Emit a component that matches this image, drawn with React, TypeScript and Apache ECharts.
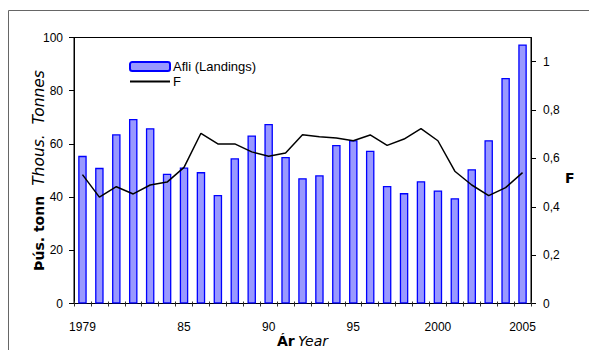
import React, { useEffect, useRef } from "react";
import * as echarts from "echarts";

// Years on the category axis
const years: string[] = [
  "1979", "1980", "1981", "1982", "1983", "1984", "1985", "1986", "1987",
  "1988", "1989", "1990", "1991", "1992", "1993", "1994", "1995", "1996",
  "1997", "1998", "1999", "2000", "2001", "2002", "2003", "2004", "2005",
];

// Landings, thousand tonnes
const landings: number[] = [
  55.5, 51.0, 63.6, 69.4, 65.9, 48.8, 51.1, 49.4, 40.8,
  54.6, 63.2, 67.5, 55.1, 47.1, 48.2, 59.6, 61.4, 57.4,
  44.2, 41.5, 46.0, 42.5, 39.6, 50.5, 61.4, 84.8, 97.4,
];

// Fishing mortality F
const fishingMortality: number[] = [
  0.533, 0.44, 0.483, 0.453, 0.49, 0.502, 0.563, 0.704, 0.66,
  0.66, 0.627, 0.609, 0.622, 0.698, 0.69, 0.684, 0.673, 0.697,
  0.654, 0.68, 0.723, 0.673, 0.547, 0.49, 0.446, 0.479, 0.541,
];

// Year labels shown under the axis (keyed by year)
const yearTickLabels: Record<string, string> = {
  "1979": "1979",
  "1985": "85",
  "1990": "90",
  "1995": "95",
  "2000": "2000",
  "2005": "2005",
};

// Right axis tick values
const fTicks: number[] = [0, 0.2, 0.4, 0.6, 0.8, 1.0];

const FONT = "Liberation Sans";
const TITLE_FONT = "DejaVu Sans";

export default function App() {
  const ref = useRef<HTMLDivElement>(null);

  useEffect(() => {
    if (!ref.current) return;
    const chart = echarts.init(ref.current, undefined, { renderer: "svg" });
    chart.setOption({
      animation: false,
      backgroundColor: "#ffffff",
      textStyle: { fontFamily: FONT },
      grid: {
        left: 74,
        right: 58,
        top: 37.5,
        bottom: 46.5,
        containLabel: false,
        outerBoundsMode: "none",
        show: true,
        borderColor: "#000",
        borderWidth: 1,
        backgroundColor: "transparent",
      },
      legend: {
        orient: "vertical",
        left: 124,
        top: 55,
        itemWidth: 40,
        itemHeight: 9,
        itemGap: 2,
        textStyle: { fontFamily: FONT, fontSize: 13, color: "#000", padding: [0, 0, 0, -2] },
        data: [
          { name: "Afli (Landings)" },
          { name: "F", itemStyle: { opacity: 0 } },
        ],
      },
      graphic: [
        {
          type: "rect",
          shape: { x: 8.5, y: 10.5, width: 700, height: 500 },
          style: { fill: "none", stroke: "#666", lineWidth: 1 },
          silent: true,
        },
      ],
      xAxis: [
        {
          type: "category",
          data: years,
          boundaryGap: true,
          axisLine: { show: true, lineStyle: { color: "#000", width: 1 } },
          axisTick: {
            show: true,
            interval: 0,
            length: 3,
            lineStyle: { color: "#333" },
          },
          axisLabel: {
            interval: (_i: number, v: string) => v in yearTickLabels,
            formatter: (v: string) => yearTickLabels[v] ?? "",
            margin: 17,
            fontSize: 12,
            color: "#000",
            fontFamily: FONT,
          },
          name: "{b|Ár} {i|Year}",
          nameLocation: "middle",
          nameMoveOverlap: false,
          nameGap: 30,
          nameTextStyle: {
            rich: {
              b: { fontFamily: TITLE_FONT, fontWeight: "bold", fontSize: 14, color: "#000" },
              i: { fontFamily: TITLE_FONT, fontStyle: "italic", fontSize: 14, color: "#000" },
            },
          },
        },
        {
          type: "category",
          data: years,
          boundaryGap: true,
          position: "bottom",
          axisLine: { show: false },
          axisTick: {
            show: true,
            inside: true,
            interval: 0,
            length: 2,
            lineStyle: { color: "#333" },
          },
          axisLabel: { show: false },
        },
      ],
      yAxis: [
        {
          type: "value",
          min: 0,
          max: 100,
          interval: 20,
          splitLine: { show: false },
          axisLine: { show: true, lineStyle: { color: "#000" } },
          axisTick: { show: true, length: 5, lineStyle: { color: "#000" } },
          axisLabel: { margin: 11, fontSize: 12, color: "#000", fontFamily: FONT },
          name: "{b|Þús. tonn}   {i|Thous.  Tonnes}",
          nameLocation: "middle",
          nameMoveOverlap: false,
          nameGap: 27,
          nameTextStyle: {
            rich: {
              b: { fontFamily: TITLE_FONT, fontWeight: "bold", fontSize: 14, color: "#000" },
              i: { fontFamily: TITLE_FONT, fontStyle: "italic", fontSize: 15.5, color: "#000" },
            },
          },
        },
        {
          type: "value",
          position: "right",
          min: 0,
          max: 1.1,
          splitLine: { show: false },
          axisLine: { show: true, lineStyle: { color: "#000" } },
          axisTick: { show: true, length: 5, customValues: fTicks, lineStyle: { color: "#000" } },
          axisLabel: {
            margin: 12,
            fontSize: 12,
            color: "#000",
            fontFamily: FONT,
            customValues: fTicks,
            formatter: (v: number) => (Math.round(v * 10) / 10).toString().replace(".", ","),
          },
          name: "F",
          nameLocation: "middle",
          nameMoveOverlap: false,
          nameRotate: 0,
          nameGap: 34,
          nameTextStyle: {
            fontFamily: TITLE_FONT,
            fontWeight: "bold",
            fontSize: 14,
            color: "#000",
            verticalAlign: "top",
          },
        },
      ],
      series: [
        {
          name: "Afli (Landings)",
          type: "bar",
          xAxisIndex: 0,
          yAxisIndex: 0,
          data: landings,
          barWidth: 8.5,
          itemStyle: { color: "#9999ff", borderColor: "#0000ff", borderWidth: 1.3 },
        },
        {
          name: "F",
          type: "line",
          xAxisIndex: 0,
          yAxisIndex: 1,
          data: fishingMortality,
          symbol: "none",
          lineStyle: { color: "#000", width: 1.5 },
          itemStyle: { color: "#000" },
        },
      ],
    });
    return () => chart.dispose();
  }, []);

  return (
    <div
      ref={ref}
      style={{ position: "absolute", left: 0, top: 0, width: 589, height: 350 }}
    />
  );
}
